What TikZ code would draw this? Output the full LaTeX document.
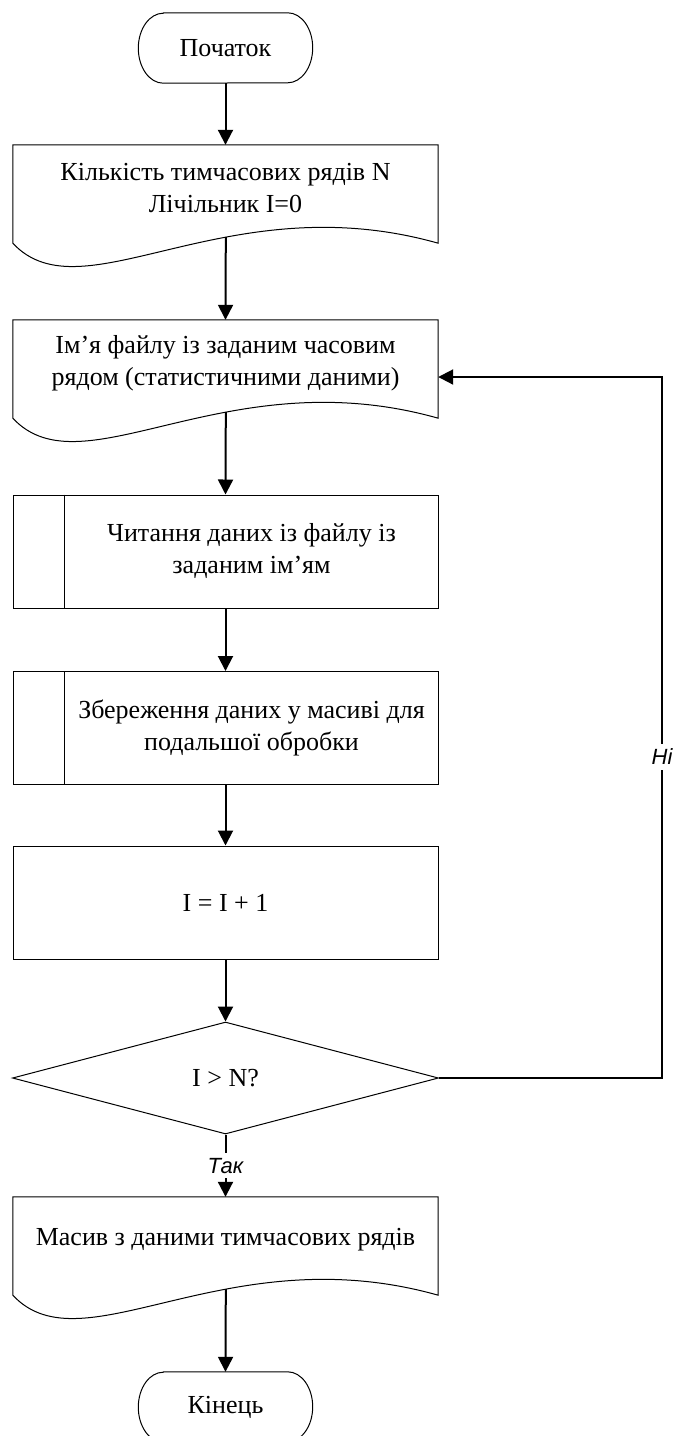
\documentclass[tikz,border=0pt]{standalone}
\usepackage{fontspec}
\setmainfont{Liberation Serif}
\newfontfamily\labelfont{Liberation Sans}
\usetikzlibrary{arrows.meta,calc,shapes.geometric}

% document symbol: straight top and sides, wavy bottom edge;
% #2 names the point on the wave straight below the centre
\newcommand\drawdoc[2]{%
  \draw[shapeline] ($(#1.south west)+(0,12)$)
    .. controls +(70,75) and +(-212.5,-60) .. ($(#1.south east)+(0,12)$)
    coordinate[pos=0.619] (#2)
    -- (#1.north east) -- (#1.north west) -- cycle;}

% terminator: straight top and bottom with elliptic ends
\newcommand\drawterm[1]{%
  \draw[shapeline] ($(#1.north west)+(25,0)$) -- ($(#1.north east)+(-25,0)$)
    arc[start angle=90, end angle=-90, x radius=25pt, y radius=35pt]
    -- ($(#1.south west)+(25,0)$)
    arc[start angle=270, end angle=90, x radius=25pt, y radius=35pt] -- cycle;}

\begin{document}
\begin{tikzpicture}[x=1pt,y=-1pt,
  every node/.style={font=\fontsize{26}{32}\selectfont, align=center},
  shapeline/.style={draw=black, line width=1pt},
  conn/.style={line width=2pt, -{Triangle[length=15pt,width=15pt]}},
  termbox/.style={minimum width=174pt, minimum height=70pt, inner sep=0pt},
  docbox/.style={minimum width=425pt, minimum height=86pt, inner sep=0pt},
  procbox/.style={shapeline, minimum width=425pt, minimum height=113pt, inner sep=0pt},
  decbox/.style={shapeline, diamond, minimum width=426pt, minimum height=112pt, inner sep=0pt},
  lbl/.style={font=\labelfont\itshape\fontsize{22}{26}\selectfont, fill=white, inner sep=5pt}
]
\useasboundingbox (0,0) rectangle (675,1436);

% blocks
\node[termbox] (s) at (225.5,48) {Початок};
\drawterm{s}

\node[docbox] (d1) at (225.5,188) {Кількість тимчасових рядів N\\Лічільник I=0};
\drawdoc{d1}{d1o}

\node[docbox] (d2) at (225.5,363) {Ім’я файлу із заданим часовим\\рядом (статистичними даними)};
\drawdoc{d2}{d2o}

\node[procbox] (p1) at (225.5,551.5)
  {\hspace*{52pt}\begin{tabular}{@{}c@{}}Читання даних із файлу із\\заданим ім’ям\end{tabular}};
\draw[shapeline] ($(p1.north west)+(52,0)$) -- ($(p1.south west)+(52,0)$);

\node[procbox] (p2) at (225.5,728)
  {\hspace*{52pt}\begin{tabular}{@{}c@{}}Збереження даних у масиві для\\подальшої обробки\end{tabular}};
\draw[shapeline] ($(p2.north west)+(52,0)$) -- ($(p2.south west)+(52,0)$);

\node[procbox] (pr) at (225.5,902.5) {I = I + 1};

\node[decbox] (dec) at (225.5,1078) {I > N?};

\node[docbox] (d3) at (225.5,1240) {Масив з даними тимчасових рядів};
\drawdoc{d3}{d3o}

\node[termbox] (e) at (225.5,1407) {Кінець};
\drawterm{e}

% connectors
\draw[conn] (s.south) -- (d1.north);
\draw[conn] (d1o) -- (d2.north);
\draw[conn] (d2o) -- (p1.north);
\draw[conn] (p1.south) -- (p2.north);
\draw[conn] (p2.south) -- (pr.north);
\draw[conn] (pr.south) -- (dec.north);
\draw[conn] (dec.south) -- node[lbl] (yes) {Так} (d3.north);
\draw[conn] (d3o) -- (e.north);

\coordinate (back) at (662,377);
\draw[conn] (dec.east) -| node[lbl, pos=0.729] (no) {Ні} (back) -- (back -| d2.east);
\end{tikzpicture}
\end{document}
